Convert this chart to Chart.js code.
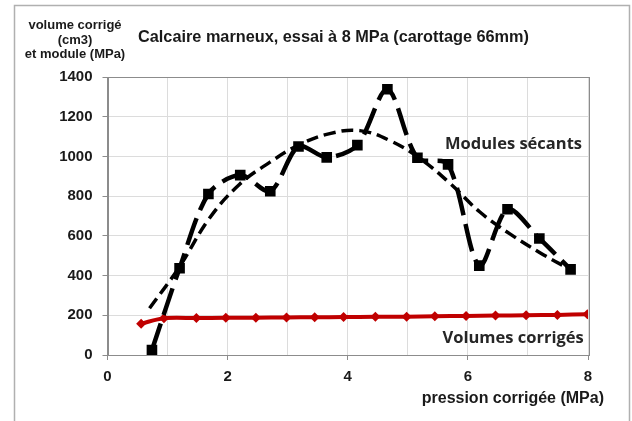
<!DOCTYPE html>
<html>
<head>
<meta charset="utf-8">
<script src="https://cdn.jsdelivr.net/npm/chart.js@4.4.0/dist/chart.umd.min.js"></script>
<style>
  html, body { margin: 0; padding: 0; background: #fff; }
  #wrap { width: 632px; height: 421px; position: relative; }
</style>
</head>
<body>
<div id="wrap"><canvas id="essaiChart" width="632" height="421"></canvas></div>
<script>
// pression corrigée (MPa) / module sécant (MPa)
const modulePression = [0.74, 1.2, 1.68, 2.21, 2.71, 3.18, 3.65, 4.16, 4.66, 5.16, 5.67, 6.19, 6.66, 7.19, 7.71];
const moduleValeurs = [25, 437, 811, 906, 825, 1050, 995, 1057, 1338, 993, 960, 450, 734, 587, 431];

// courbe de tendance
const tendancePression = [0.7, 1.2, 1.7, 2.2, 2.7, 3.2, 3.7, 4.2, 4.7, 5.2, 5.7, 6.2, 6.7, 7.2, 7.7];
const tendanceValeurs = [235, 445, 690, 860, 970, 1060, 1115, 1130, 1080, 990, 865, 720, 610, 515, 431];

// volume corrigé (cm3)
const volumePression = [0.56, 0.94, 1.48, 1.97, 2.47, 2.98, 3.45, 3.93, 4.46, 4.98, 5.45, 5.97, 6.46, 6.97, 7.49, 7.99];
const volumeValeurs = [158, 185, 186, 187, 188, 189, 190, 191, 192, 193, 195, 197, 199, 200, 202, 205];

const xTicks = [0, 2, 4, 6, 8];

const toPoints = (xs, ys) => xs.map((x, i) => ({ x: x, y: ys[i] }));

const axisFont = { family: "'Liberation Sans', Arial, sans-serif", size: 15, weight: "bold" };

const decorPlugin = {
  id: "decor",
  beforeDraw(chart) {
    const c = chart.ctx;
    c.save();
    c.fillStyle = "#fff";
    c.fillRect(0, 0, chart.width, chart.height);
    c.strokeStyle = "#b0b0b0";
    c.lineWidth = 1.5;
    c.beginPath();
    c.moveTo(14.5, chart.height);
    c.lineTo(14.5, 5.5);
    c.lineTo(629.5, 5.5);
    c.lineTo(629.5, chart.height);
    c.stroke();
    c.restore();
  },
  afterDatasetsDraw(chart) {
    const c = chart.ctx;
    const a = chart.chartArea;
    const xs = chart.scales.x;
    const ys = chart.scales.y;
    c.save();
    c.strokeStyle = "#8c8c8c";
    c.lineWidth = 1;
    c.strokeRect(Math.round(a.left) + 0.5, Math.round(a.top) + 0.5, Math.round(a.right - a.left), Math.round(a.bottom - a.top));

    c.fillStyle = "#1a1a1a";
    c.textAlign = "center";
    c.textBaseline = "middle";
    c.font = "bold 13px 'Liberation Sans', Arial, sans-serif";
    c.fillText("volume corrigé", 75, 25);
    c.fillText("(cm3)", 75, 40);
    c.fillText("et module (MPa)", 75, 54);

    c.textAlign = "left";
    c.font = "bold 16.3px 'Liberation Sans', Arial, sans-serif";
    c.fillText("Calcaire marneux, essai à 8 MPa (carottage 66mm)", 138, 38);

    c.textAlign = "right";
    c.font = "bold 16px 'Liberation Sans', Arial, sans-serif";
    c.fillText("pression corrigée (MPa)", 604, 399);

    c.fillStyle = "#262626";
    c.font = "bold 16.5px 'Open Sans', Lato, sans-serif";
    c.fillText("Modules sécants", xs.getPixelForValue(7.9), ys.getPixelForValue(1060));
    c.fillText("Volumes corrigés", xs.getPixelForValue(7.93), ys.getPixelForValue(85));
    c.restore();
  }
};

const ctx = document.getElementById("essaiChart").getContext("2d");

new Chart(ctx, {
  type: "scatter",
  data: {
    datasets: [
      {
        label: "Volumes corrigés",
        data: toPoints(volumePression, volumeValeurs),
        showLine: true,
        borderColor: "#c00000",
        backgroundColor: "#c00000",
        borderWidth: 4,
        pointStyle: "rectRot",
        pointRadius: 5,
        pointBorderWidth: 0,
        tension: 0.3,
        order: 3,
      },
      {
        label: "Modules sécants",
        data: toPoints(modulePression, moduleValeurs),
        showLine: true,
        borderColor: "#000",
        backgroundColor: "#000",
        borderWidth: 4.5,
        borderDash: [28, 9],
        pointStyle: "rect",
        pointRadius: 7.5,
        pointBorderWidth: 0,
        tension: 0.3,
        order: 2,
      },
      {
        label: "Tendance",
        data: toPoints(tendancePression, tendanceValeurs),
        showLine: true,
        borderColor: "#000",
        borderWidth: 3.5,
        borderDash: [12, 6],
        pointRadius: 0,
        tension: 0.4,
        order: 1,
      },
    ],
  },
  options: {
    responsive: false,
    animation: false,
    layout: {
      padding: { left: 0, top: 77, right: 44, bottom: 0 },
    },
    plugins: {
      legend: { display: false },
      tooltip: { enabled: false },
    },
    scales: {
      x: {
        type: "linear",
        min: 0,
        max: 8,
        afterFit: (scale) => { scale.height = 66; },
        afterBuildTicks: (scale) => {
          scale.ticks = [0, 1, 2, 3, 4, 5, 6, 7, 8].map((v) => ({ value: v }));
        },
        ticks: {
          color: "#1a1a1a",
          font: axisFont,
          padding: 8,
          maxRotation: 0,
          callback: (v) => (xTicks.includes(v) ? String(v) : ""),
        },
        grid: {
          color: "#dcdcdc",
          tickColor: (c) => (xTicks.includes(c.tick.value) ? "#8c8c8c" : "transparent"),
          tickLength: 5,
        },
        border: { color: "#8c8c8c" },
      },
      y: {
        type: "linear",
        min: 0,
        max: 1400,
        afterFit: (scale) => { scale.width = 107.5; },
        ticks: {
          stepSize: 200,
          color: "#1a1a1a",
          font: axisFont,
          padding: 10,
          callback: (v) => String(v),
        },
        grid: {
          color: "#dcdcdc",
          tickColor: "#8c8c8c",
          tickLength: 5,
        },
        border: { color: "#8c8c8c" },
      },
    },
  },
  plugins: [decorPlugin],
});
</script>
</body>
</html>
